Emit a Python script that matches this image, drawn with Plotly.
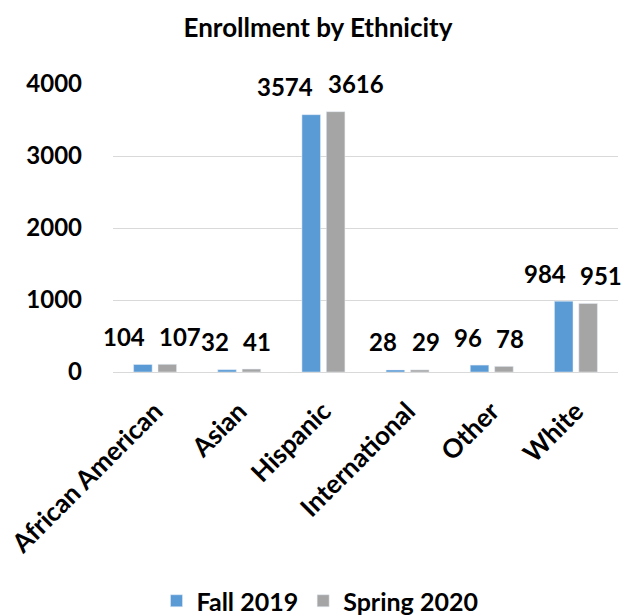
import plotly.graph_objects as go

categories = ["African American", "Asian", "Hispanic", "International", "Other", "White"]
fall_2019 = [104, 32, 3574, 28, 96, 984]
spring_2020 = [107, 41, 3616, 29, 78, 951]
series_names = ["Fall 2019", "Spring 2020"]
y_ticks = [0, 1000, 2000, 3000, 4000]

BLUE = "#5B9BD5"
GRAY = "#A5A5A5"
FONT = "Lato"

W, H = 621, 616
L, R, T, B = 113, 3, 84, 244
cat_px = (W - L - R) / len(categories)
BARGAP, GROUPGAP = 0.42, 0.24
half_slot = cat_px * (1 - BARGAP) / 4  # distance from category centre to bar centre

fig = go.Figure()
fig.add_trace(go.Bar(name=series_names[0], x=categories, y=fall_2019,
                     marker_color=BLUE, offsetgroup=0))
fig.add_trace(go.Bar(name=series_names[1], x=categories, y=spring_2020,
                     marker_color=GRAY, offsetgroup=1))

# data labels: Fall labels end near their bar, Spring labels start near theirs
for vals, anchor, dx in ((fall_2019, "right", -half_slot + 4),
                         (spring_2020, "left", half_slot - 10)):
    for c, v in zip(categories, vals):
        fig.add_annotation(x=c, y=v, text=f"{v}", showarrow=False,
                           xanchor=anchor, xshift=dx, yshift=28, yanchor="middle",
                           font=dict(family=FONT, size=24, color="#000000",
                                     weight="bold"))

fig.update_layout(
    width=W, height=H,
    margin=dict(l=L, r=R, t=T, b=B),
    paper_bgcolor="white", plot_bgcolor="white",
    barmode="group", bargap=BARGAP, bargroupgap=GROUPGAP,
    title=dict(text="Enrollment by Ethnicity", x=318 / W, xref="container",
               xanchor="center", y=1 - 28 / H, yref="container", yanchor="middle",
               font=dict(family=FONT, size=26, color="#000000", weight="bold")),
    font=dict(family=FONT, color="#000000"),
    showlegend=True,
    legend=dict(orientation="h", xref="container", x=320 / W, xanchor="center",
                yref="container", y=1 - 601 / H, yanchor="middle",
                font=dict(family=FONT, size=25, color="#000000", weight="bold"),
                traceorder="normal"),
    xaxis=dict(tickangle=-45, range=[-0.5, len(categories) - 0.5], automargin=False,
               tickfont=dict(family=FONT, size=26, color="#000000", weight="bold"),
               showline=False, showgrid=False, ticks="", ticklabelstandoff=18),
    yaxis=dict(range=[0, 4000], tickvals=y_ticks, showgrid=True, gridcolor="#D9D9D9",
               gridwidth=1, zeroline=True, zerolinecolor="#D9D9D9", zerolinewidth=1,
               automargin=False,
               tickfont=dict(family=FONT, size=24, color="#000000", weight="bold"),
               ticks="", ticklabelstandoff=30),
)
fig.update_traces(cliponaxis=False)

fig.write_html("out.html", config={"displayModeBar": False},
               post_script="document.body.style.margin='0';")
